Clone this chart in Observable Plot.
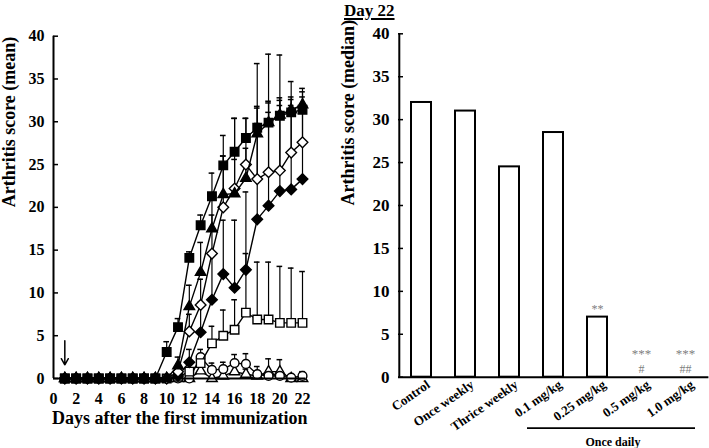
<!DOCTYPE html>
<html><head><meta charset="utf-8">
<script src="https://cdn.jsdelivr.net/npm/d3@7"></script>
<script src="https://cdn.jsdelivr.net/npm/@observablehq/plot@0.6"></script>
<style>
body{margin:0;background:#fff;}
#wrap{position:relative;width:709px;height:448px;display:flex;font-family:"Liberation Serif","Times New Roman",serif;font-weight:bold;}
#title{position:absolute;left:344px;top:2px;font-size:17px;line-height:17px;text-decoration:underline;text-decoration-thickness:1.5px;text-underline-offset:2px;}
svg{overflow:visible;}
</style></head>
<body><div id="wrap"><div id="title">Day 22</div><div id="left"></div><div id="right"></div></div>
<script>
// ---------- Left panel data (mean arthritis score by day) ----------
const days = [1,2,3,4,5,6,7,8,9,10,11,12,13,14,15,16,17,18,19,20,21,22];
const xTicksLeft = [0,2,4,6,8,10,12,14,16,18,20,22];
const yTicks = [0,5,10,15,20,25,30,35,40];

const sqFilled   = [0,0,0,0,0,0,0,0,0,3.1,6.0,14.1,17.9,21.3,24.9,26.5,28.1,29.3,29.9,30.7,31.1,31.4];
const sqFilledSD = [0,0,0,0,0,0,0,0,0,1.2,1.0,0.7,1.2,2.7,3.5,3.9,2.3,2.5,2.3,1.8,1.5,1.5];
const triFilled   = [0,0,0,0,0,0,0,0,0,0,1.5,8.4,12.4,17.5,21.5,21.6,23.4,28.6,29.9,30.8,31.4,32.0];
const triFilledSD = [0,0,0,0,0,0,0,0,0,0,1.0,2.5,3.5,4.0,4.5,4.0,3.5,3.0,2.5,2.0,1.5,1.5];
const diaOpen   = [0,0,0,0,0,0,0,0,0,0,0.8,5.5,8.6,14.6,20.0,22.2,25.0,23.3,24.1,24.3,26.4,27.6];
const diaOpenSD = [0,0,0,0,0,0,0,0,0,0,0,2.0,3.0,4.5,6.0,8.2,5.4,6.5,7.0,7.6,5.5,4.5];
const diaFilled   = [0,0,0,0,0,0,0,0,0,0,0.3,1.9,5.4,9.2,12.2,10.6,12.7,18.6,20.2,21.9,22.1,23.3];
const diaFilledSD = [0,0,0,0,0,0,0,0,0,0,0,1.5,3.5,5.5,6.3,7.9,9.1,18.2,17.7,15.9,12.6,10.6];
const sqOpen   = [0,0,0,0,0,0,0,0,0,0,0.2,0.8,1.8,4.1,5.0,5.7,7.7,6.9,6.9,6.5,6.5,6.5];
const sqOpenSD = [0,0,0,0,0,0,0,0,0,0,0,0,1.0,2.0,3.0,3.5,6.9,6.7,6.7,6.6,6.4,6.0];
const circOpen   = [0,0,0,0,0,0,0,0,0,0,0,0,2.5,1.0,1.1,1.8,1.7,0.5,0.3,0.3,0.1,0.3];
const circOpenSD = [0,0,0,0,0,0,0,0,0,0,0,0,0.9,0.8,0.8,1.0,1.2,0.9,0.6,0.5,0.3,0.5];
const triOpen   = [0,0,0,0,0,0,0,0,0,0,0,0,0.9,0,0.3,0.8,0.5,0.3,0.8,0.8,0,0];
const triOpenSD = [0,0,0,0,0,0,0,0,0,0,0,0,0.6,0,0,0.7,0.6,0.4,1.5,1.4,0,0];

const arrowData = [{day: 1, from: 4.4, to: 1.6}];
const leftYTitle = "Arthritis score (mean)";
const leftXTitle = "Days after the first immunization";

// ---------- Right panel data (median at Day 22) ----------
const groups  = ["Control","Once weekly","Thrice weekly","0.1 mg/kg","0.25 mg/kg","0.5 mg/kg","1.0 mg/kg"];
const medians = [32, 31, 24.5, 28.5, 7, 0, 0];
const sigTop    = ["","","","","**","***","***"];
const sigBottom = ["","","","","","#","##"];
const rightYTitle = "Arthritis score (median)";
const bracketLabel = "Once daily";
const bracketFrom = "0.1 mg/kg", bracketTo = "1.0 mg/kg";

// ---------- Build tables ----------
const seriesDefs = [
  {name: "triOpen",   values: triOpen,   sd: triOpenSD,   symbol: "triangle", fill: "white", r: 3.9},
  {name: "circOpen",  values: circOpen,  sd: circOpenSD,  symbol: "circle",   fill: "white", r: 4.4},
  {name: "sqOpen",    values: sqOpen,    sd: sqOpenSD,    symbol: "square",   fill: "white", r: 4.8},
  {name: "diaFilled", values: diaFilled, sd: diaFilledSD, symbol: "diamond2", fill: "black", r: 4.8},
  {name: "diaOpen",   values: diaOpen,   sd: diaOpenSD,   symbol: "diamond2", fill: "white", r: 4.8},
  {name: "triFilled", values: triFilled, sd: triFilledSD, symbol: "triangle", fill: "black", r: 3.9},
  {name: "sqFilled",  values: sqFilled,  sd: sqFilledSD,  symbol: "square",   fill: "black", r: 4.8}
];
const rows = seriesDefs.map(s => days.map((d, i) => ({series: s.name, day: d, value: s.values[i], sd: s.sd[i], top: s.values[i] + s.sd[i]})));
const errRows = rows.flat().filter(d => d.sd > 0);

const font = '"Liberation Serif", "Times New Roman", serif';
const baseStyle = {fontFamily: font, fontWeight: "bold", color: "black", background: "white", overflow: "visible"};

const seriesMarks = seriesDefs.flatMap((s, k) => [
  Plot.line(rows[k], {x: "day", y: "value", stroke: "black", strokeWidth: 1.4}),
  Plot.dot(rows[k], {x: "day", y: "value", symbol: () => s.symbol, r: s.r, fill: s.fill, stroke: "black", strokeWidth: 1.4})
]);

const left = Plot.plot({
  width: 330, height: 448,
  marginLeft: 53, marginRight: 24.6, marginTop: 35.7, marginBottom: 70,
  x: {domain: [0, 22.3]},
  y: {domain: [0, 40]},
  symbol: {type: "identity"},
  style: {...baseStyle, fontSize: "16px"},
  marks: [
    Plot.ruleX(errRows, {x: "day", y1: "value", y2: "top", stroke: "black", strokeWidth: 1.2}),
    Plot.ruleY(errRows, {y: "top", x1: d => d.day - 0.25, x2: d => d.day + 0.25, stroke: "black", strokeWidth: 1.5}),
    ...seriesMarks,
    Plot.axisY(yTicks, {tickSize: 5, dx: 5, fill: "none", strokeWidth: 1.5, label: null}),
    Plot.axisY(yTicks, {tickSize: 0, tickPadding: 9, label: null, fontSize: 16}),
    Plot.axisX(xTicksLeft, {tickSize: 0, tickPadding: 14, label: null, fontSize: 16}),
    Plot.ruleX([0], {stroke: "black", strokeWidth: 2}),
    Plot.ruleY([0], {stroke: "black", strokeWidth: 2}),
    Plot.arrow(arrowData, {x1: "day", x2: "day", y1: "from", y2: "to", stroke: "black", strokeWidth: 1.5, headLength: 7}),
    Plot.text([leftYTitle], {frameAnchor: "left", rotate: -90, dx: -44, fontSize: 18}),
    Plot.text([leftXTitle], {frameAnchor: "bottom", dy: 45, fontSize: 18})
  ]
});
document.getElementById("left").append(left);

const barData = groups.map((g, i) => ({group: g, median: medians[i]}));
const sigRows = [];
groups.forEach((g, i) => {
  const hasBottom = sigBottom[i] !== "";
  if (hasBottom) sigRows.push({group: g, y: medians[i], label: sigBottom[i], level: 0});
  if (sigTop[i] !== "") sigRows.push({group: g, y: medians[i], label: sigTop[i], level: hasBottom ? 1 : 0});
});

const right = Plot.plot({
  width: 379, height: 448,
  marginLeft: 68, marginRight: 0.6, marginTop: 33.3, marginBottom: 71.3,
  x: {type: "band", domain: groups, paddingInner: 0.55, paddingOuter: 0.27},
  y: {domain: [0, 40]},
  style: {...baseStyle, fontSize: "17px"},
  marks: [
    Plot.barY(barData.filter(d => d.median > 0), {x: "group", y: "median", fill: "white", stroke: "black", strokeWidth: 2}),
    Plot.axisY(yTicks, {tickSize: 5, dx: 5, fill: "none", strokeWidth: 1.5, label: null}),
    Plot.axisY(yTicks, {tickSize: 0, tickPadding: 9, label: null, fontSize: 17}),
    Plot.axisX(groups, {tickSize: 0, tickRotate: -35, tickPadding: 6, dx: 7, label: null, fontSize: 13}),
    Plot.ruleX([0], {x: () => groups[0], dx: -22.2, stroke: "black", strokeWidth: 2}),
    Plot.ruleY([0], {stroke: "black", strokeWidth: 2}),
    Plot.text(sigRows.filter(d => d.level === 0), {x: "group", y: "y", text: "label", dy: -8, fill: "#808080", fontSize: 12, fontWeight: "normal"}),
    Plot.text(sigRows.filter(d => d.level === 1), {x: "group", y: "y", text: "label", dy: -23, fill: "#808080", fontSize: 13, fontWeight: "normal"}),
    Plot.ruleY([0], {x1: () => bracketFrom, x2: () => bracketTo, dy: 51, insetLeft: -16, stroke: "black", strokeWidth: 1.8}),
    Plot.text([bracketLabel], {x: () => "0.25 mg/kg", y: () => 0, dx: 15.4, dy: 65, fontSize: 12}),
    Plot.text([rightYTitle], {frameAnchor: "left", rotate: -90, dx: -50, fontSize: 18})
  ]
});
document.getElementById("right").append(right);
</script>
</body></html>
